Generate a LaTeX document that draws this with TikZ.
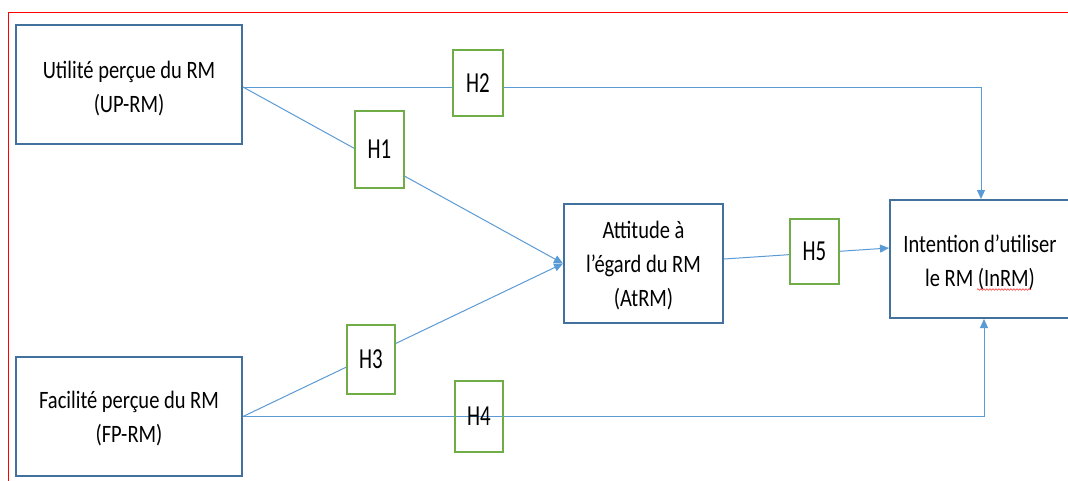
\documentclass[tikz,border=0pt]{standalone}
\usepackage{fontspec}
\setmainfont{Carlito}[FakeStretch=0.82]
\newfontfamily\hfont{Carlito}[FakeStretch=0.72]
\usetikzlibrary{arrows.meta,decorations.pathmorphing}
\definecolor{boxblue}{HTML}{41719C}
\definecolor{hgreen}{HTML}{70AD47}
\definecolor{linkblue}{HTML}{5B9BD5}
\begin{document}
\begin{tikzpicture}[x=1pt,y=-1pt,
  mainbox/.style={draw=boxblue,line width=2pt,fill=white,inner sep=0pt},
  hbox/.style={draw=hgreen,line width=2pt,fill=white,inner sep=0pt,
    font=\hfont\fontsize{29}{32}\selectfont},
  hboxopen/.style={hbox,fill=none},
  maintxt/.style={align=center,inner sep=0pt,font=\fontsize{25}{34}\selectfont},
  link/.style={draw=linkblue,line width=1pt},
  arr/.style={link,-{Triangle[length=9pt,width=8pt]}}]
\useasboundingbox (0,0) rectangle (1068,480);
\fill[white] (0,0) rectangle (1068,480);
% frame
\draw[red,line width=1pt] (8,481) -- (8,12) -- (1069,12);
% boxes
\node[mainbox,minimum width=226pt,minimum height=119pt] (UP) at (129,84.5) {};
\node[mainbox,minimum width=226pt,minimum height=119pt] (FP) at (129,416.5) {};
\node[mainbox,minimum width=159pt,minimum height=119pt] (At) at (643.5,263.5) {};
\node[mainbox,minimum width=180pt,minimum height=118pt] (In) at (980,259) {};
% connectors
\draw[arr] ([yshift=-2.5pt]UP.east) -| ([xshift=1pt]In.north);
\draw[arr] ([yshift=-2.5pt]UP.east) -- (At.west);
\draw[arr] (FP.east) -| ([xshift=4pt]In.south);
\draw[arr] (FP.east) -- (At.west);
\draw[arr] ([yshift=4.5pt]At.east) -- ([yshift=11pt]In.west);
% hypothesis boxes
\node[hbox,minimum width=50pt,minimum height=66pt] (H2) at (478,83) {H2};
\node[hbox,minimum width=49pt,minimum height=77pt] (H1) at (379.5,149.5) {H1};
\node[hbox,minimum width=48pt,minimum height=69pt] (H3) at (371,359.5) {H3};
\node[hboxopen,minimum width=48pt,minimum height=71pt] (H4) at (479,416.5) {H4};
\node[hbox,minimum width=49pt,minimum height=65pt] (H5) at (814.5,251.5) {H5};
% texts
\node[maintxt] (UPt) at (129,88.6) {Utilité perçue du RM\\(UP-RM)};
\node[maintxt] (FPt) at (129,418.6) {Facilité perçue du RM\\(FP-RM)};
\node[maintxt] (Att) at (643.5,265.3) {Attitude à\\l’égard du RM\\(AtRM)};
\node[maintxt] (Int) at (980,262.3) {Intention d’utiliser\\le RM (InRM)};
% spell-check squiggle
\coordinate (sq1) at (977,289.5);
\coordinate (sq2) at (1031,289.5);
\draw[red!80,line width=0.6pt,decorate,decoration={snake,amplitude=0.8pt,segment length=3pt}] (sq1) -- (sq2);
\end{tikzpicture}
\end{document}
